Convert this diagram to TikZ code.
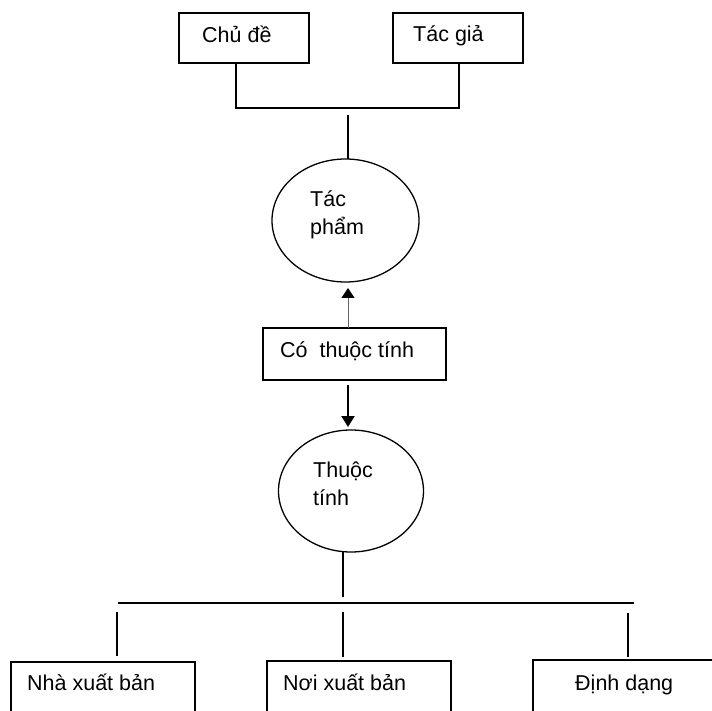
\documentclass[tikz,border=0pt]{standalone}
\usepackage{fontspec}
\setmainfont{Liberation Sans}
\usetikzlibrary{shapes.geometric,arrows.meta}

\begin{document}
\begin{tikzpicture}[x=1pt,y=-1pt,
    box/.style={draw, line width=1.2pt, rectangle, inner sep=0pt, outer sep=0pt},
    oval/.style={draw, line width=1.3pt, ellipse, inner sep=0pt, outer sep=0pt},
    txt/.style={anchor=base west, inner sep=0pt,
                font=\fontsize{21.5}{26}\selectfont},
    conn/.style={line width=2pt},
    tip/.style={-{Triangle[width=13pt,length=11pt]}}]
  \useasboundingbox (0,0) rectangle (712,711);
  \clip (0,0) rectangle (712,711);

  % top row: topic and author
  \node[box, minimum width=130pt, minimum height=50pt] (ch) at (244,38) {};
  \node[box, minimum width=130pt, minimum height=50pt] (tg) at (458,38) {};
  \node[txt] (chT) at (202,43) {Chủ đề};
  \node[txt] (tgT) at (413,42) {Tác giả};

  % work entity
  \node[oval, minimum width=147pt, minimum height=123pt] (tp) at (345.5,220.5) {};
  \node[txt] (tp1) at (310,207) {Tác};
  \node[txt] (tp2) at (310,235) {phẩm};

  % relation box
  \node[box, minimum width=183pt, minimum height=52pt] (cb) at (354.5,354) {};
  \node[txt] (cbT) at (280,357) {Có\ \ thuộc tính};

  % attribute entity
  \node[oval, minimum width=145pt, minimum height=122pt] (tt) at (351,491) {};
  \node[txt] (tt1) at (313,477) {Thuộc};
  \node[txt] (tt2) at (313,505) {tính};

  % bottom row: attributes
  \node[box, minimum width=184pt, minimum height=70pt] (nx) at (103,697) {};
  \node[box, minimum width=184pt, minimum height=70pt] (nc) at (359,696) {};
  \node[box, minimum width=184pt, minimum height=70pt] (dd) at (625,695) {};
  \node[txt] (nxT) at (27,690) {Nhà xuất bản};
  \node[txt] (ncT) at (283,690) {Nơi xuất bản};
  \node[txt] (ddT) at (575,690) {Định dạng};

  % connector points
  \coordinate (jL) at (236,108);
  \coordinate (jR) at (459,108);
  \coordinate (stemT) at (348,115);
  \coordinate (ax) at (348,0);
  \coordinate (stemB) at (343,597);
  \coordinate (barL) at (118,603);
  \coordinate (barR) at (634,603);
  \coordinate (d1) at (117,612);
  \coordinate (d2) at (343,612);
  \coordinate (d3) at (628,613);

  % top fork into the work entity
  \draw[conn] (ch.south -| jL) -- (jL) -- (jR) -- (tg.south -| jR);
  \draw[conn] (stemT) -- (tp.north -| stemT);

  % relation arrows
  \draw[line width=1pt, gray!80!black,
        -{Triangle[width=13pt,length=10pt,color=black]}, shorten >=6pt]
        (cb.north -| ax) -- (tp.south -| ax);
  \draw[conn, tip, shorten <=5pt, shorten >=3pt] (cb.south -| ax) -- (tt.north -| ax);

  % bottom fork to the attributes
  \draw[conn] (tt.south -| stemB) -- (stemB);
  \draw[conn] (barL) -- (barR);
  \draw[conn, shorten >=6pt] (d1) -- (d1 |- nx.north);
  \draw[conn, shorten >=4pt] (d2) -- (d2 |- nc.north);
  \draw[conn, shorten >=3pt] (d3) -- (d3 |- dd.north);
\end{tikzpicture}
\end{document}
